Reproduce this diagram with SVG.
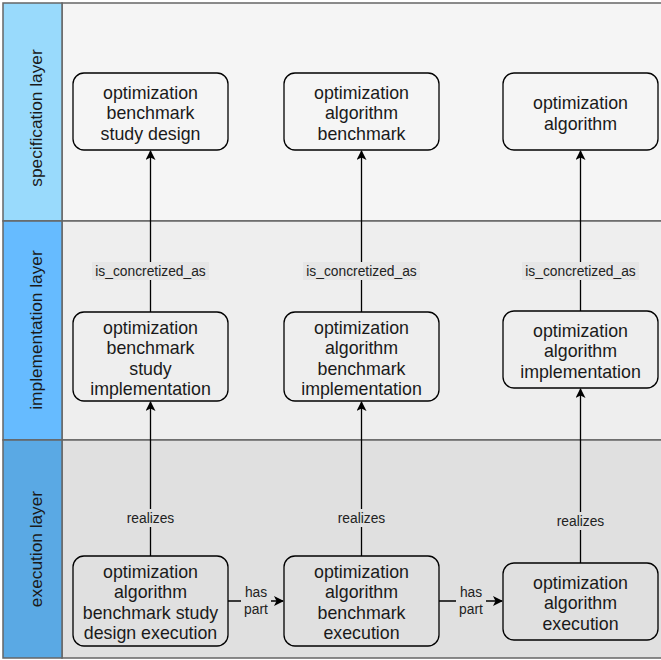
<svg xmlns="http://www.w3.org/2000/svg" width="661" height="660" viewBox="0 0 661 660">
<style>
.lane{stroke:#666666;stroke-width:1.5}
.node rect{fill:none;stroke:#000000;stroke-width:1.3}
.node text{font-family:"Liberation Sans",Arial,sans-serif;font-size:17.8px;fill:#1a1a1a;text-anchor:middle}
.hdr{font-family:"Liberation Sans",Arial,sans-serif;font-size:17.3px;fill:#1a1a1a;text-anchor:middle}
.edge{stroke:#000000;stroke-width:1.3;fill:none}
.lbl{font-family:"Liberation Sans",Arial,sans-serif;font-size:13.8px;fill:#222222;text-anchor:middle}
</style>
<defs>
<marker id="arr" viewBox="0 0 10 10" refX="9" refY="5" markerWidth="10" markerHeight="10" markerUnits="userSpaceOnUse" orient="auto">
<path d="M0,0 L10,5 L0,10 L2.5,5 Z" fill="#000000"/>
</marker>
</defs>
<g id="lanes">
<rect class="lane" x="62" y="3" width="605" height="218" fill="#f5f5f5"/>
<rect class="lane" x="62" y="221" width="605" height="219" fill="#eeeeee"/>
<rect class="lane" x="62" y="440" width="605" height="218" fill="#e0e0e0"/>
<rect class="lane" x="3" y="3" width="59" height="218" fill="#99dafc" stroke="#5a8fb8"/>
<rect class="lane" x="3" y="221" width="59" height="219" fill="#66bbff" stroke="#4a86b8"/>
<rect class="lane" x="3" y="440" width="59" height="218" fill="#5aa9e4" stroke="#3f7fb5"/>
<text class="hdr" transform="translate(42,118) rotate(-90)">specification layer</text>
<text class="hdr" transform="translate(42,330) rotate(-90)">implementation layer</text>
<text class="hdr" transform="translate(42,549) rotate(-90)">execution layer</text>
</g>
<g id="connectors">
<line class="edge" x1="150.5" y1="312" x2="150.5" y2="151" marker-end="url(#arr)"/>
<line class="edge" x1="361.5" y1="312" x2="361.5" y2="151" marker-end="url(#arr)"/>
<line class="edge" x1="580.5" y1="311" x2="580.5" y2="151" marker-end="url(#arr)"/>
<line class="edge" x1="150.5" y1="556" x2="150.5" y2="402" marker-end="url(#arr)"/>
<line class="edge" x1="361.5" y1="556" x2="361.5" y2="402" marker-end="url(#arr)"/>
<line class="edge" x1="580.5" y1="563" x2="580.5" y2="389" marker-end="url(#arr)"/>
<line class="edge" x1="228" y1="601" x2="283" y2="601" marker-end="url(#arr)"/>
<line class="edge" x1="439" y1="601" x2="502" y2="601" marker-end="url(#arr)"/>
<rect x="92" y="262" width="117" height="18" fill="#e6e6e6"/>
<text class="lbl" x="150.5" y="276">is_concretized_as</text>
<rect x="303" y="262" width="117" height="18" fill="#e6e6e6"/>
<text class="lbl" x="361.5" y="276">is_concretized_as</text>
<rect x="522" y="262" width="117" height="18" fill="#e6e6e6"/>
<text class="lbl" x="580.5" y="276">is_concretized_as</text>
<rect x="124" y="509" width="53" height="18" fill="#e0e0e0"/>
<text class="lbl" x="150.5" y="523">realizes</text>
<rect x="335" y="509" width="53" height="18" fill="#e0e0e0"/>
<text class="lbl" x="361.5" y="523">realizes</text>
<rect x="554" y="512" width="53" height="18" fill="#e0e0e0"/>
<text class="lbl" x="580.5" y="526">realizes</text>
<rect x="241" y="583" width="30" height="35" fill="#e0e0e0"/>
<text class="lbl" x="256" y="597">has</text>
<text class="lbl" x="256" y="614">part</text>
<rect x="456" y="583" width="30" height="35" fill="#e0e0e0"/>
<text class="lbl" x="471" y="597">has</text>
<text class="lbl" x="471" y="614">part</text>
</g>
<g id="n_spec1" class="node">
<rect x="73" y="73" width="155" height="77" rx="11"/>
<text x="150.5" y="98.5">optimization</text>
<text x="150.5" y="119">benchmark</text>
<text x="150.5" y="139.5">study design</text>
</g>
<g id="n_spec2" class="node">
<rect x="284" y="73" width="155" height="77" rx="11"/>
<text x="361.5" y="98.5">optimization</text>
<text x="361.5" y="119">algorithm</text>
<text x="361.5" y="139.5">benchmark</text>
</g>
<g id="n_spec3" class="node">
<rect x="503" y="73" width="155" height="77" rx="11"/>
<text x="580.5" y="109">optimization</text>
<text x="580.5" y="129.5">algorithm</text>
</g>
<g id="n_impl1" class="node">
<rect x="73" y="312" width="155" height="89" rx="11"/>
<text x="150.5" y="333.5">optimization</text>
<text x="150.5" y="354">benchmark</text>
<text x="150.5" y="374.5">study</text>
<text x="150.5" y="395">implementation</text>
</g>
<g id="n_impl2" class="node">
<rect x="284" y="312" width="155" height="89" rx="11"/>
<text x="361.5" y="333.5">optimization</text>
<text x="361.5" y="354">algorithm</text>
<text x="361.5" y="374.5">benchmark</text>
<text x="361.5" y="395">implementation</text>
</g>
<g id="n_impl3" class="node">
<rect x="503" y="311" width="155" height="77" rx="11"/>
<text x="580.5" y="336.5">optimization</text>
<text x="580.5" y="357">algorithm</text>
<text x="580.5" y="377.5">implementation</text>
</g>
<g id="n_exec1" class="node">
<rect x="73" y="556" width="155" height="90" rx="11"/>
<text x="150.5" y="577.5">optimization</text>
<text x="150.5" y="598">algorithm</text>
<text x="150.5" y="618.5">benchmark study</text>
<text x="150.5" y="639">design execution</text>
</g>
<g id="n_exec2" class="node">
<rect x="284" y="556" width="155" height="90" rx="11"/>
<text x="361.5" y="577.5">optimization</text>
<text x="361.5" y="598">algorithm</text>
<text x="361.5" y="618.5">benchmark</text>
<text x="361.5" y="639">execution</text>
</g>
<g id="n_exec3" class="node">
<rect x="503" y="563" width="155" height="77" rx="11"/>
<text x="580.5" y="588.5">optimization</text>
<text x="580.5" y="609">algorithm</text>
<text x="580.5" y="629.5">execution</text>
</g>
</svg>
